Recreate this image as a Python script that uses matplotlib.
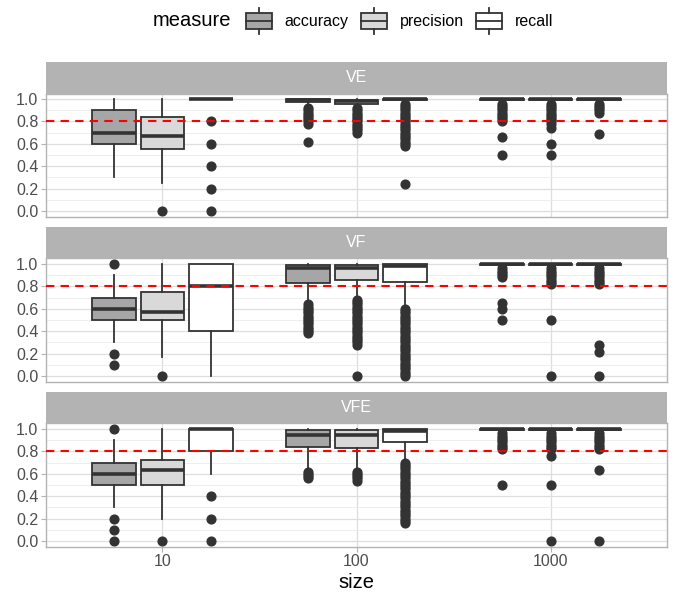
import matplotlib
matplotlib.use('Agg')
import matplotlib.pyplot as plt
from matplotlib.patches import Rectangle, Patch
from matplotlib.lines import Line2D
from matplotlib.legend_handler import HandlerBase

plt.rcParams['font.family'] = ['Liberation Sans', 'DejaVu Sans']

facets = ['VE', 'VF', 'VFE']
measures = ['accuracy', 'precision', 'recall']
sizes = ['10', '100', '1000']
fills = {'accuracy': '#A6A6A6', 'precision': '#D9D9D9', 'recall': '#FFFFFF'}

# box statistics, facet -> measure -> size (10, 100, 1000)
q1 = {
    'VE': {'accuracy': [0.60, 0.97, 0.99], 'precision': [0.55, 0.96, 0.99], 'recall': [1.00, 0.99, 0.99]},
    'VF': {'accuracy': [0.50, 0.83, 0.99], 'precision': [0.50, 0.86, 0.99], 'recall': [0.40, 0.84, 0.99]},
    'VFE': {'accuracy': [0.50, 0.84, 0.99], 'precision': [0.50, 0.83, 0.99], 'recall': [0.80, 0.88, 0.99]},
}
med = {
    'VE': {'accuracy': [0.70, 0.99, 1.00], 'precision': [0.67, 0.98, 1.00], 'recall': [1.00, 1.00, 1.00]},
    'VF': {'accuracy': [0.60, 0.96, 1.00], 'precision': [0.57, 0.96, 1.00], 'recall': [0.80, 0.98, 1.00]},
    'VFE': {'accuracy': [0.60, 0.95, 1.00], 'precision': [0.63, 0.95, 1.00], 'recall': [1.00, 0.98, 1.00]},
}
q3 = {
    'VE': {'accuracy': [0.90, 1.00, 1.00], 'precision': [0.84, 0.99, 1.00], 'recall': [1.00, 1.00, 1.00]},
    'VF': {'accuracy': [0.70, 0.99, 1.00], 'precision': [0.75, 0.99, 1.00], 'recall': [1.00, 1.00, 1.00]},
    'VFE': {'accuracy': [0.70, 0.99, 1.00], 'precision': [0.72, 0.99, 1.00], 'recall': [1.00, 1.00, 1.00]},
}
whis_lo = {
    'VE': {'accuracy': [0.30, 0.94, 0.98], 'precision': [0.25, 0.93, 0.98], 'recall': [1.00, 0.98, 0.98]},
    'VF': {'accuracy': [0.30, 0.66, 0.98], 'precision': [0.17, 0.70, 0.98], 'recall': [0.00, 0.62, 0.98]},
    'VFE': {'accuracy': [0.30, 0.65, 0.98], 'precision': [0.20, 0.65, 0.98], 'recall': [0.60, 0.72, 0.98]},
}
whis_hi = {
    'VE': {'accuracy': [1.00, 1.00, 1.00], 'precision': [1.00, 1.00, 1.00], 'recall': [1.00, 1.00, 1.00]},
    'VF': {'accuracy': [0.90, 1.00, 1.00], 'precision': [1.00, 1.00, 1.00], 'recall': [1.00, 1.00, 1.00]},
    'VFE': {'accuracy': [0.90, 1.00, 1.00], 'precision': [1.00, 1.00, 1.00], 'recall': [1.00, 1.00, 1.00]},
}
outliers = {
    'VE': {
        'accuracy': [[],
                     [0.92, 0.90, 0.88, 0.86, 0.84, 0.82, 0.80, 0.78, 0.62],
                     [0.96, 0.94, 0.92, 0.90, 0.88, 0.86, 0.84, 0.82, 0.80, 0.66, 0.50]],
        'precision': [[0.0],
                      [0.92, 0.90, 0.88, 0.86, 0.84, 0.82, 0.80, 0.78, 0.76, 0.74, 0.72, 0.70],
                      [0.96, 0.94, 0.92, 0.90, 0.88, 0.86, 0.84, 0.82, 0.80, 0.78, 0.74, 0.60, 0.50]],
        'recall': [[0.8, 0.6, 0.4, 0.2, 0.0],
                   [0.96, 0.94, 0.92, 0.90, 0.88, 0.86, 0.84, 0.82, 0.80, 0.78, 0.76, 0.74, 0.72,
                    0.70, 0.68, 0.66, 0.64, 0.62, 0.60, 0.58, 0.24],
                   [0.96, 0.94, 0.92, 0.90, 0.88, 0.69]],
    },
    'VF': {
        'accuracy': [[1.0, 0.2, 0.1],
                     [0.64, 0.62, 0.60, 0.58, 0.56, 0.54, 0.52, 0.50, 0.48, 0.46, 0.44, 0.42, 0.40, 0.38],
                     [0.96, 0.94, 0.92, 0.90, 0.88, 0.65, 0.60, 0.50]],
        'precision': [[0.0],
                      [0.68, 0.66, 0.64, 0.62, 0.60, 0.58, 0.56, 0.54, 0.52, 0.50, 0.48, 0.46, 0.44,
                       0.42, 0.40, 0.38, 0.36, 0.34, 0.32, 0.30, 0.28, 0.0],
                      [0.96, 0.94, 0.92, 0.90, 0.88, 0.86, 0.84, 0.82, 0.50, 0.0]],
        'recall': [[],
                   [0.60, 0.58, 0.56, 0.54, 0.52, 0.50, 0.48, 0.46, 0.44, 0.42, 0.40, 0.38, 0.36,
                    0.34, 0.32, 0.30, 0.28, 0.26, 0.24, 0.22, 0.20, 0.18, 0.16, 0.14, 0.12, 0.10,
                    0.08, 0.06, 0.04, 0.02, 0.0],
                   [0.96, 0.94, 0.92, 0.90, 0.88, 0.86, 0.84, 0.82, 0.28, 0.21, 0.0]],
    },
    'VFE': {
        'accuracy': [[1.0, 0.2, 0.1, 0.0],
                     [0.62, 0.60, 0.58, 0.56],
                     [0.96, 0.94, 0.92, 0.90, 0.88, 0.86, 0.84, 0.82, 0.50]],
        'precision': [[0.0],
                      [0.62, 0.60, 0.58, 0.56, 0.54],
                      [0.96, 0.94, 0.92, 0.90, 0.88, 0.86, 0.84, 0.82, 0.76, 0.50, 0.0]],
        'recall': [[0.4, 0.2, 0.0],
                   [0.70, 0.68, 0.66, 0.64, 0.62, 0.60, 0.58, 0.56, 0.54, 0.52, 0.50, 0.48, 0.46,
                    0.44, 0.42, 0.40, 0.38, 0.36, 0.34, 0.32, 0.30, 0.28, 0.26, 0.24, 0.22, 0.20,
                    0.18, 0.16],
                   [0.96, 0.94, 0.92, 0.90, 0.88, 0.86, 0.84, 0.82, 0.63, 0.0]],
    },
}
threshold = 0.8

EDGE = '#333333'
W, H = 678, 593
# (strip top, panel top, panel bottom) in pixels from the top
rows = [(62, 93.5, 216.6), (227, 258.4, 381.6), (392, 423.4, 546.6)]
left, right = 46, 667


class BoxKey(HandlerBase):
    def create_artists(self, legend, orig_handle, xdescent, ydescent,
                       width, height, fontsize, trans):
        x0, y0 = -xdescent, -ydescent
        cx = x0 + width / 2
        box = Rectangle((x0, y0 + 0.17 * height), width, 0.66 * height,
                        facecolor=orig_handle.get_facecolor(), edgecolor=EDGE,
                        lw=1.3, transform=trans)
        mid = Line2D([x0, x0 + width], [y0 + 0.5 * height] * 2, color=EDGE, lw=1.3, transform=trans)
        lo = Line2D([cx, cx], [y0, y0 + 0.17 * height], color=EDGE, lw=1.3, transform=trans)
        hi = Line2D([cx, cx], [y0 + 0.83 * height, y0 + height], color=EDGE, lw=1.3, transform=trans)
        return [box, mid, lo, hi]


fig = plt.figure(figsize=(W / 100, H / 100), dpi=100)

for k, facet in enumerate(facets):
    s_top, p_top, p_bot = rows[k]
    ax = fig.add_axes([left / W, 1 - p_bot / H, (right - left) / W, (p_bot - p_top) / H])
    sax = fig.add_axes([left / W, 1 - p_top / H, (right - left) / W, (p_top - s_top) / H])
    sax.set_facecolor('#B3B3B3')
    sax.set_xticks([])
    sax.set_yticks([])
    for sp in sax.spines.values():
        sp.set_visible(False)
    sax.text(0.5, 0.5, facet, color='white', fontsize=11.5, ha='center', va='center',
             transform=sax.transAxes)

    stats, positions, colors = [], [], []
    for j, m in enumerate(measures):
        for i in range(len(sizes)):
            stats.append({'q1': q1[facet][m][i], 'med': med[facet][m][i], 'q3': q3[facet][m][i],
                          'whislo': whis_lo[facet][m][i], 'whishi': whis_hi[facet][m][i],
                          'fliers': outliers[facet][m][i]})
            positions.append(i + 1 + (j - 1) * 0.25)
            colors.append(fills[m])
    bp = ax.bxp(stats, positions=positions, widths=0.225, patch_artist=True, showcaps=False,
                boxprops=dict(edgecolor=EDGE, linewidth=1.3),
                medianprops=dict(color=EDGE, linewidth=2.6, solid_capstyle='butt'),
                whiskerprops=dict(color=EDGE, linewidth=1.3),
                flierprops=dict(marker='o', markerfacecolor=EDGE, markeredgecolor=EDGE,
                                markersize=6.3, linestyle='none'),
                manage_ticks=False, zorder=2)
    for patch, c in zip(bp['boxes'], colors):
        patch.set_facecolor(c)

    ax.axhline(threshold, color='red', linestyle=(0, (4, 3)), linewidth=1.5, zorder=4)

    ax.set_xlim(0.4, 3.6)
    ax.set_ylim(-0.05, 1.05)
    ax.set_yticks([0.0, 0.2, 0.4, 0.6, 0.8, 1.0])
    ax.set_yticklabels(['0.0', '0.2', '0.4', '0.6', '0.8', '1.0'])
    ax.set_yticks([0.1, 0.3, 0.5, 0.7, 0.9], minor=True)
    ax.set_xticks([1, 2, 3])
    ax.set_axisbelow(True)
    ax.grid(True, which='major', color='#DEDEDE', linewidth=0.9)
    ax.grid(True, which='minor', axis='y', color='#EBEBEB', linewidth=0.6)
    ax.tick_params(which='minor', length=0)
    ax.tick_params(which='major', color='#B3B3B3', length=3.5, width=0.8,
                   labelcolor='#4D4D4D', labelsize=11.5, pad=2)
    for sp in ax.spines.values():
        sp.set_color('#B3B3B3')
        sp.set_linewidth(1.0)
    if k == len(facets) - 1:
        ax.set_xticklabels(sizes)
        ax.set_xlabel('size', fontsize=14.5, labelpad=3)
    else:
        ax.tick_params(axis='x', length=0, labelbottom=False)

fig.text(153 / W, 1 - 20 / H, 'measure', fontsize=14.5, ha='left', va='center')
handles = [Patch(facecolor=fills[m], edgecolor=EDGE) for m in measures]
fig.legend(handles, measures, handler_map={Patch: BoxKey()}, loc='center left',
           bbox_to_anchor=(246 / W, 1 - 21 / H), ncol=3, frameon=False, fontsize=11.5,
           handlelength=1.6, handleheight=2.1, handletextpad=0.8, columnspacing=0.8,
           borderpad=0, borderaxespad=0)

fig.savefig('out.png', dpi=100)
